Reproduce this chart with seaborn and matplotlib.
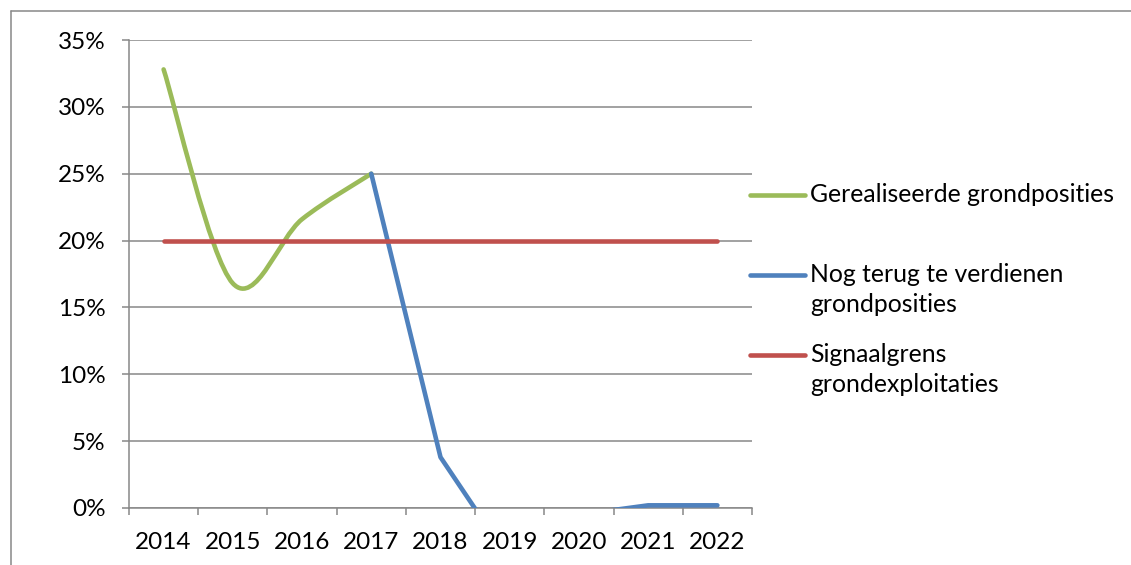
import numpy as np
import pandas as pd
import matplotlib
matplotlib.use("Agg")
import matplotlib.pyplot as plt
from matplotlib.path import Path
from matplotlib.patches import PathPatch
from matplotlib.lines import Line2D
from matplotlib.ticker import PercentFormatter, FixedLocator
import seaborn as sns

years = ["2014", "2015", "2016", "2017", "2018", "2019", "2020", "2021", "2022"]
gerealiseerd = [0.328, 0.168, 0.216, 0.250, np.nan, np.nan, np.nan, np.nan, np.nan]
nog_terug = [np.nan, np.nan, np.nan, 0.250, 0.038, -0.039, -0.005, 0.002, 0.002]
signaalgrens = [0.20, 0.20, 0.20, 0.20, 0.20, 0.20, 0.20, 0.20, 0.20]
y_ticks = [0.00, 0.05, 0.10, 0.15, 0.20, 0.25, 0.30, 0.35]
legend_labels = ["Gerealiseerde grondposities",
                 "Nog terug te verdienen\ngrondposities",
                 "Signaalgrens\ngrondexploitaties"]

GREEN = "#9BBB59"
BLUE = "#4F81BD"
RED = "#C0504D"
GRID = "#888888"

sns.set_theme(style="white")
plt.rcParams['font.family'] = ['Lato', 'DejaVu Sans']

df = pd.DataFrame({"jaar": years, "pos": np.arange(len(years)),
                   "gerealiseerd": gerealiseerd, "nog_terug": nog_terug,
                   "signaalgrens": signaalgrens})

W, H = 1131, 565
fig = plt.figure(figsize=(W / 100, H / 100), dpi=100)
ax = fig.add_axes([129 / W, 1 - 508 / H, (752 - 129) / W, (508 - 40) / H])

lw = 3.3

# smoothed green line (Excel style bezier through the points)
g = df.dropna(subset=["gerealiseerd"])
pts = list(zip(g["pos"], g["gerealiseerd"]))
verts = [pts[0]]
codes = [Path.MOVETO]
n = len(pts)
for i in range(n - 1):
    p_prev = np.array(pts[max(i - 1, 0)])
    p0 = np.array(pts[i])
    p1 = np.array(pts[i + 1])
    p_next = np.array(pts[min(i + 2, n - 1)])
    c1 = p0 + (p1 - p_prev) / 6
    c2 = p1 - (p_next - p0) / 6
    verts += [tuple(c1), tuple(c2), tuple(p1)]
    codes += [Path.CURVE4] * 3
ax.add_patch(PathPatch(Path(verts, codes), facecolor="none", edgecolor=GREEN,
                       lw=lw, capstyle="round", joinstyle="round", zorder=3))

b = df.dropna(subset=["nog_terug"])
sns.lineplot(x="pos", y="nog_terug", data=b, color=BLUE, lw=lw, estimator=None,
             ax=ax, zorder=3, solid_capstyle="round")
sns.lineplot(x="pos", y="signaalgrens", data=df, color=RED, lw=lw, estimator=None,
             ax=ax, zorder=3, solid_capstyle="round")

ax.set_xlim(-0.5, len(years) - 0.5)
ax.set_ylim(0, 0.35)
ax.set_xlabel("")
ax.set_ylabel("")

ax.yaxis.set_major_locator(FixedLocator(y_ticks))
ax.yaxis.set_major_formatter(PercentFormatter(xmax=1, decimals=0))
ax.yaxis.grid(True, color=GRID, lw=1.1)
ax.set_axisbelow(True)

ax.xaxis.set_major_locator(FixedLocator(np.arange(len(years) + 1) - 0.5))
ax.xaxis.set_minor_locator(FixedLocator(df["pos"]))
ax.set_xticklabels([], minor=False)
ax.set_xticklabels(years, minor=True)

ax.tick_params(axis="x", which="major", direction="out", length=5, width=1.1,
               color=GRID, bottom=True)
ax.tick_params(axis="x", which="minor", length=0, pad=17, labelsize=17.5,
               labelcolor="black", bottom=True)
ax.tick_params(axis="y", direction="out", length=5, width=1.1, color=GRID,
               left=True, pad=12, labelsize=17.5, labelcolor="black")

for side in ["top", "right"]:
    ax.spines[side].set_visible(False)
for side in ["left", "bottom"]:
    ax.spines[side].set_color(GRID)
    ax.spines[side].set_linewidth(1.1)

# legend beside the plot
colors = [GREEN, BLUE, RED]
entry_y = [195, 275, 355]
for lab, col, yy in zip(legend_labels, colors, entry_y):
    fig.add_artist(Line2D([750 / W, 805 / W], [1 - yy / H] * 2, color=col,
                          lw=lw, solid_capstyle="round", transform=fig.transFigure))
    for k, line in enumerate(lab.split("\n")):
        fig.text(810 / W, 1 - (yy + 30 * k) / H, line, fontsize=17.8,
                 va="center", ha="left", color="black")

# chart frame
fig.add_artist(Line2D([11 / W, 1], [1 - 11 / H] * 2, color=GRID, lw=1.1,
                      transform=fig.transFigure))
fig.add_artist(Line2D([11 / W, 11 / W], [0, 1 - 11 / H], color=GRID, lw=1.1,
                      transform=fig.transFigure))

fig.savefig("out.png", dpi=100)
